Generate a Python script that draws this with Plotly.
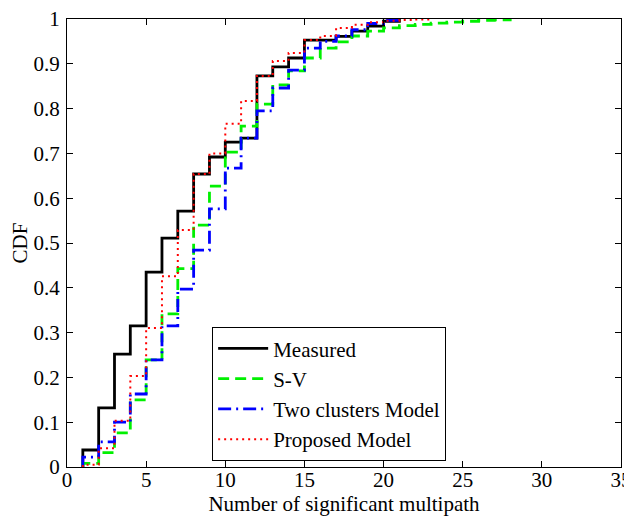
import plotly.graph_objects as go

# Number of significant multipath (step positions)
x_measured = [1, 1, 2, 3, 4, 5, 6, 7, 8, 9, 10, 11, 12, 13, 14, 15, 16, 17, 18, 19, 20, 21]
cdf_measured = [0, 0.038, 0.132, 0.252, 0.315, 0.435, 0.511, 0.571, 0.654, 0.692, 0.725, 0.734,
                0.873, 0.893, 0.913, 0.953, 0.953, 0.961, 0.973, 0.984, 0.995, 1.0]

x_sv = [1, 1, 2, 3, 4, 5, 6, 7, 8, 9, 10, 11, 12, 13, 14, 15, 16, 17, 18, 19, 20,
        21, 22, 23, 24, 25, 26, 27, 28]
cdf_sv = [0, 0.008, 0.032, 0.076, 0.15, 0.239, 0.342, 0.443, 0.54, 0.627, 0.703, 0.761,
          0.81, 0.853, 0.884, 0.913, 0.935, 0.949, 0.962, 0.973, 0.98,
          0.985, 0.988, 0.991, 0.993, 0.995, 0.997, 0.998, 1.0]

x_two = [1, 1, 2, 3, 4, 5, 6, 7, 8, 9, 10, 11, 12, 13, 14, 15, 16, 17, 18, 19, 20, 21]
cdf_two = [0, 0.022, 0.056, 0.1, 0.163, 0.239, 0.315, 0.397, 0.484, 0.576, 0.667, 0.734,
           0.795, 0.846, 0.886, 0.935, 0.95, 0.962, 0.976, 0.99, 0.997, 1.0]

x_prop = [1, 1, 2, 3, 4, 5, 6, 7, 8, 9, 10, 11, 12, 13, 14, 15, 16, 17, 18, 19, 20,
          21, 22, 23]
cdf_prop = [0, 0.005, 0.042, 0.103, 0.203, 0.31, 0.426, 0.529, 0.654, 0.70, 0.766, 0.817,
            0.873, 0.906, 0.924, 0.953, 0.962, 0.98, 0.987, 0.993, 0.996,
            0.998, 0.999, 1.0]

x_ticks = [0, 5, 10, 15, 20, 25, 30, 35]
y_ticks = [0, 0.1, 0.2, 0.3, 0.4, 0.5, 0.6, 0.7, 0.8, 0.9, 1]

FONT = "Liberation Serif"

fig = go.Figure()
fig.add_trace(go.Scatter(x=x_measured, y=cdf_measured, mode="lines", name="Measured",
                         line=dict(color="black", width=2.8, shape="hv")))
fig.add_trace(go.Scatter(x=x_sv, y=cdf_sv, mode="lines", name="S-V",
                         line=dict(color="#00f000", width=2.8, shape="hv", dash="11px,6px")))
fig.add_trace(go.Scatter(x=x_two, y=cdf_two, mode="lines", name="Two clusters Model",
                         line=dict(color="#0000ff", width=2.8, shape="hv", dash="13px,5px,2px,5px")))
fig.add_trace(go.Scatter(x=x_prop, y=cdf_prop, mode="lines", name="Proposed Model",
                         line=dict(color="#ff0000", width=2, shape="hv", dash="2px,4px")))

axis_common = dict(showline=True, linecolor="black", linewidth=1, mirror="ticks",
                   ticks="inside", ticklen=6, tickcolor="black", tickwidth=1,
                   showgrid=False, zeroline=False, ticklabeloverflow="allow",
                   automargin=False,
                   tickfont=dict(family=FONT, size=21, color="black"))

fig.update_xaxes(range=[0, 35], tickvals=x_ticks, ticktext=[str(v) for v in x_ticks],
                 ticklabelstandoff=-6,
                 title=dict(text="Number of significant multipath",
                            font=dict(family=FONT, size=21, color="black"), standoff=0),
                 **axis_common)
fig.update_yaxes(range=[0, 1], tickvals=y_ticks, ticktext=[("%g" % v) for v in y_ticks],
                 ticklabelstandoff=2,
                 title=dict(text="CDF", font=dict(family=FONT, size=21, color="black"),
                            standoff=5),
                 **axis_common)

fig.update_layout(
    width=624, height=508,
    margin=dict(l=59, r=11, t=11, b=49, autoexpand=False),
    paper_bgcolor="white", plot_bgcolor="white",
    showlegend=True,
    legend=dict(x=0.262, y=0.312, xanchor="left", yanchor="top",
                bgcolor="white", bordercolor="black", borderwidth=1,
                font=dict(family=FONT, size=21, color="black"),
                itemwidth=50, tracegroupgap=0),
)

fig.write_html("out.html")
